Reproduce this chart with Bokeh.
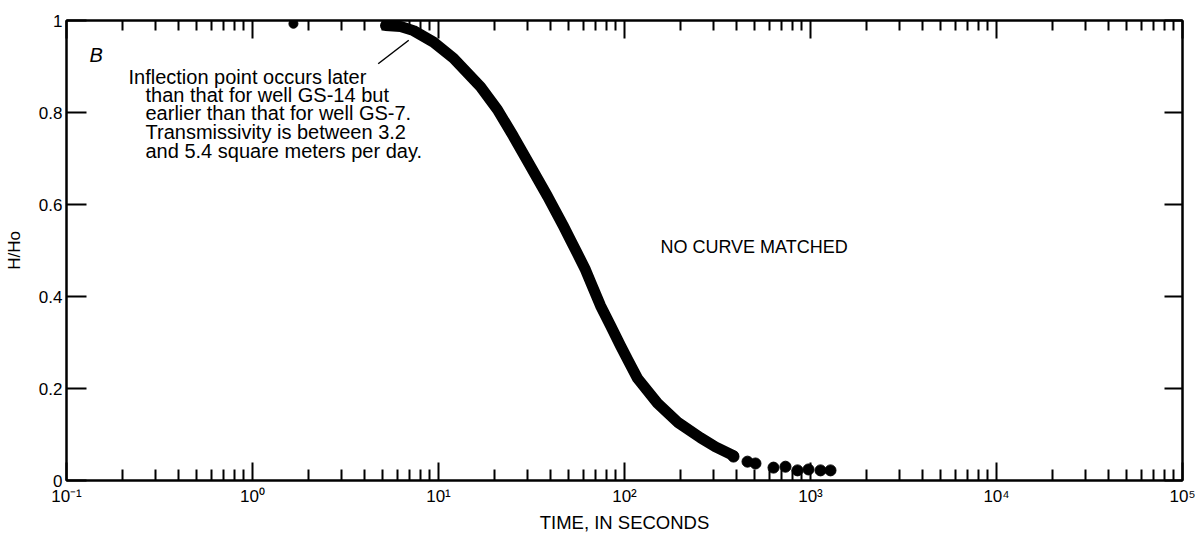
from bokeh.plotting import figure
from bokeh.models import LogAxis, LinearAxis, CustomJSTickFormatter, FixedTicker, Range1d
from bokeh.core.properties import value
from bokeh.embed import file_html
from bokeh.resources import INLINE

# ---- data ----
early_time_s = [1.66]
early_h = [0.993]
curve_time_s = [5.19, 6.25, 7.34, 9.40, 12.04, 16.82, 20.76, 25.30, 31.22, 38.55, 46.99, 51.24,
                55.89, 61.71, 65.65, 74.30, 84.07, 95.17, 105.1, 117.5, 150.5, 192.7, 256.2,
                308.5, 385.5]
curve_h = [0.989, 0.987, 0.978, 0.953, 0.918, 0.856, 0.806, 0.748, 0.683, 0.618, 0.553, 0.523,
           0.493, 0.458, 0.432, 0.380, 0.337, 0.293, 0.259, 0.222, 0.168, 0.127, 0.093,
           0.073, 0.054]
tail_time_s = [385.5, 458.4, 506, 632.6, 733.8, 851.4, 975.4, 1132, 1281]
tail_h = [0.052, 0.041, 0.037, 0.028, 0.030, 0.022, 0.024, 0.022, 0.022]

x_major_ticks = [0.1, 1, 10, 100, 1000, 10000, 100000]
x_minor_ticks = [k * 10.0 ** e for e in range(-1, 5) for k in range(2, 10)]
y_ticks = [0, 0.2, 0.4, 0.6, 0.8, 1.0]

panel_letter = "B"
note_lines = ["Inflection point occurs later",
              "than that for well GS-14 but",
              "earlier than that for well GS-7.",
              "Transmissivity is between 3.2",
              "and 5.4 square meters per day."]
note_x = [0.2154, 0.2659, 0.2659, 0.2659, 0.2659]
note_y = [0.877, 0.837, 0.798, 0.758, 0.7165]
no_match_text = "NO CURVE MATCHED"

FONT = "Liberation Sans"

p = figure(width=1195, height=535, x_axis_type="log",
           x_range=Range1d(0.1, 100000), y_range=Range1d(0, 1),
           output_backend="svg", toolbar_location=None,
           min_border_left=66, min_border_right=13, min_border_top=20, min_border_bottom=54)
p.xgrid.visible = False
p.ygrid.visible = False
p.outline_line_color = "black"
p.outline_line_width = 2
p.background_fill_color = "white"
p.border_fill_color = "white"

xfmt = CustomJSTickFormatter(code="""
const s = {'-1':'\\u207b\\u00b9','0':'\\u2070','1':'\\u00b9','2':'\\u00b2','3':'\\u00b3','4':'\\u2074','5':'\\u2075'};
const e = Math.round(Math.log(tick) / Math.LN10);
return '10' + s[String(e)];
""")
yfmt = CustomJSTickFormatter(code="""
if (Math.abs(tick) < 1e-9) return '0';
if (Math.abs(tick - 1) < 1e-9) return '1';
return tick.toFixed(1);
""")

def xticker():
    return FixedTicker(ticks=x_major_ticks, minor_ticks=x_minor_ticks)

def yticker():
    return FixedTicker(ticks=y_ticks, minor_ticks=[])

xa = p.xaxis[0]
xa.ticker = xticker()
xa.formatter = xfmt
xa.major_tick_in = 18
xa.major_tick_out = 0
xa.minor_tick_in = 11
xa.minor_tick_out = 0
xa.major_tick_line_width = 2
xa.minor_tick_line_width = 2
xa.axis_line_width = 2
xa.major_label_text_font = FONT
xa.major_label_text_font_size = "17px"
xa.major_label_text_color = "black"
xa.major_label_standoff = 6
xa.axis_label = "TIME, IN SECONDS"
xa.axis_label_text_font = FONT
xa.axis_label_text_font_size = "18.5px"
xa.axis_label_text_font_style = "normal"
xa.axis_label_text_color = "black"
xa.axis_label_standoff = 3

ya = p.yaxis[0]
ya.ticker = yticker()
ya.formatter = yfmt
ya.major_tick_in = 20
ya.major_tick_out = 0
ya.minor_tick_line_color = None
ya.major_tick_line_width = 2
ya.axis_line_width = 2
ya.major_label_text_font = FONT
ya.major_label_text_font_size = "17px"
ya.major_label_text_color = "black"
ya.major_label_standoff = 4
ya.axis_label = "H/Ho"
ya.axis_label_text_font = FONT
ya.axis_label_text_font_size = "17px"
ya.axis_label_text_font_style = "normal"
ya.axis_label_text_color = "black"
ya.axis_label_standoff = 12

top = LogAxis(ticker=xticker(), major_label_text_color=None, major_label_text_font_size="1px",
              major_label_standoff=0,
              major_tick_in=18, major_tick_out=0, minor_tick_in=10, minor_tick_out=0,
              major_tick_line_width=2, minor_tick_line_width=2, axis_line_width=2)
p.add_layout(top, "above")
right = LinearAxis(ticker=yticker(), major_label_text_color=None, major_label_text_font_size="1px",
                   major_label_standoff=0,
                   major_tick_in=18, major_tick_out=0, minor_tick_line_color=None,
                   major_tick_line_width=2, axis_line_width=2)
p.add_layout(right, "right")

# data marks
p.scatter(early_time_s, early_h, size=9, color="black")
p.line(curve_time_s, curve_h, line_width=11, color="black", line_cap="round", line_join="round")
p.scatter(tail_time_s, tail_h, size=11, color="black")

# annotations
p.text(x=[0.133], y=[0.924], text=[panel_letter], text_font=value(FONT), text_font_size="20px",
       text_font_style="italic", text_baseline="alphabetic", text_color="black")
p.text(x=note_x, y=note_y, text=note_lines, text_font=value(FONT), text_font_size="20px",
       text_baseline="alphabetic", text_align="left", text_color="black")
p.segment(x0=[4.74], y0=[0.906], x1=[6.92], y1=[0.957], line_width=1.5, color="black")
p.text(x=[156], y=[0.508], text=[no_match_text], text_font=value(FONT), text_font_size="18px",
       text_baseline="alphabetic", text_color="black")

open("out.html", "w").write(file_html(p, INLINE))
